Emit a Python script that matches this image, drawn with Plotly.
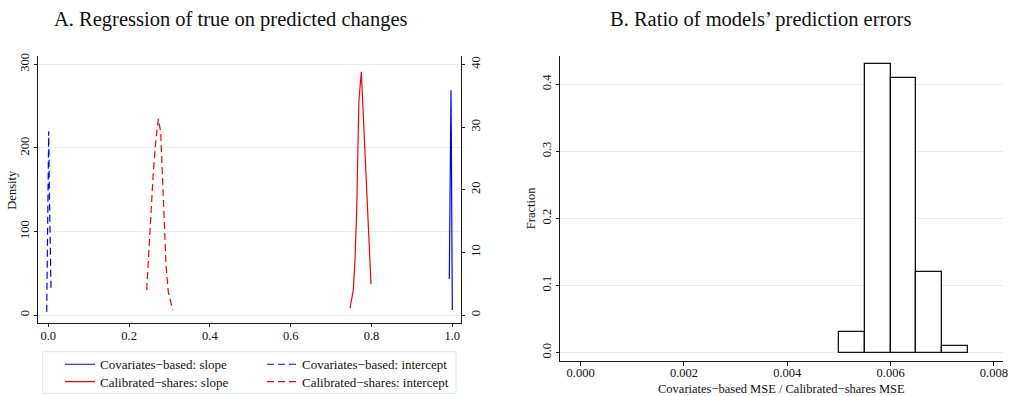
import plotly.graph_objects as go

# ---- Panel A: kernel densities of regression coefficients ----
# Covariates-based model (left density axis)
cov_slope_x = [0.9926, 0.9940, 0.9955, 0.9968, 0.9978, 0.9990, 1.0000]
cov_slope_y = [43, 130, 210, 269, 200, 100, 6]
cov_int_x = [-0.0040, -0.0025, -0.0007, 0.0010, 0.0025, 0.0042, 0.0067]
cov_int_y = [4, 74, 153, 220, 153, 102, 32]

# Calibrated-shares model (right density axis)
cal_slope_x = [0.7468, 0.7550, 0.7592, 0.7634, 0.7658, 0.7690, 0.7748,
               0.7772, 0.7829, 0.7879, 0.7923, 0.7968, 0.7988]
cal_slope_y = [1.1, 4.0, 8.8, 16.7, 24.7, 34.3, 38.8,
               35.3, 27.4, 20.4, 14.1, 7.7, 4.9]
cal_int_x = [0.2436, 0.2517, 0.2599, 0.2666, 0.2723, 0.2782, 0.2822,
             0.2864, 0.2913, 0.2970, 0.3079]
cal_int_y = [4.0, 13.3, 22.8, 28.2, 31.3, 29.2, 22.8, 13.8, 8.0, 3.7, 0.8]

# ---- Panel B: histogram of MSE ratio ----
bin_left = [0.0050, 0.0055, 0.0060, 0.0065, 0.0070]
bin_width = 0.0005
fractions = [0.03, 0.43, 0.41, 0.12, 0.01]

a_xticks = [0.0, 0.2, 0.4, 0.6, 0.8, 1.0]
a_yticks = [0, 100, 200, 300]
a_y2ticks = [0, 10, 20, 30, 40]
b_xticks = [0.000, 0.002, 0.004, 0.006, 0.008]
b_yticks = [0.0, 0.1, 0.2, 0.3, 0.4]

FONT = "Liberation Serif"
W, H = 1012, 396
AX = "#1a1a1a"
GRID = "#e6eeee"
DASH = "7px,4px"
TXT = "#111111"


def px(x):
    return x / W


def py(y):
    return 1 - y / H


fig = go.Figure()

fig.add_trace(go.Scatter(x=cov_slope_x, y=cov_slope_y, mode="lines",
                         line=dict(color="#0000ff", width=1.2),
                         name="Covariates\u2212based: slope",
                         xaxis="x", yaxis="y", legend="legend"))
fig.add_trace(go.Scatter(x=cov_int_x, y=cov_int_y, mode="lines",
                         line=dict(color="#0000ff", width=1.2, dash=DASH),
                         name="Covariates\u2212based: intercept",
                         xaxis="x", yaxis="y", legend="legend2"))
fig.add_trace(go.Scatter(x=cal_slope_x, y=cal_slope_y, mode="lines",
                         line=dict(color="#ff0000", width=1.2),
                         name="Calibrated\u2212shares: slope",
                         xaxis="x", yaxis="y2", legend="legend3"))
fig.add_trace(go.Scatter(x=cal_int_x, y=cal_int_y, mode="lines",
                         line=dict(color="#ff0000", width=1.2, dash=DASH),
                         name="Calibrated\u2212shares: intercept",
                         xaxis="x", yaxis="y2", legend="legend4"))

fig.add_trace(go.Bar(x=bin_left, y=fractions, width=bin_width, offset=0,
                     marker=dict(color="white", line=dict(color=TXT, width=1.3)),
                     xaxis="x3", yaxis="y3", showlegend=False))

tickfont = dict(family=FONT, size=12.5, color=TXT)
common = dict(showline=True, linecolor=AX, linewidth=1, ticks="outside",
              ticklen=3.5, tickcolor=AX, tickfont=tickfont, zeroline=False,
              automargin=False)
titlefont = dict(family=FONT, size=12.5, color=TXT)

a_dom_x = [px(38), px(460.7)]
a_dom_y = [py(322.7), py(56)]
b_dom_x = [px(560), px(1002.7)]
b_dom_y = [py(361), py(56)]

fig.update_layout(
    width=W, height=H,
    margin=dict(l=0, r=0, t=0, b=0, autoexpand=False),
    paper_bgcolor="white", plot_bgcolor="white",
    font=dict(family=FONT, size=13, color=TXT),
    bargap=0,
    xaxis=dict(domain=a_dom_x, range=[-0.0255, 1.0208], tickvals=a_xticks,
               ticktext=[f"{v:.1f}" for v in a_xticks], showgrid=False,
               anchor="y", ticklabelstandoff=-2, **common),
    yaxis=dict(domain=a_dom_y, range=[-9.2, 310], tickvals=a_yticks,
               tickangle=-90, showgrid=True, gridcolor=GRID, gridwidth=1,
               anchor="x", **common),
    yaxis2=dict(range=[-9.2 * 40 / 300, 310 * 40 / 300], tickvals=a_y2ticks,
                tickangle=-90, overlaying="y", side="right", anchor="x",
                showgrid=False, **common),
    xaxis3=dict(domain=b_dom_x, range=[-0.0004, 0.00817], tickvals=b_xticks,
                ticktext=[f"{v:.3f}" for v in b_xticks], showgrid=False,
                anchor="y3", ticklabelstandoff=-4, **common),
    yaxis3=dict(domain=b_dom_y, range=[-0.0125, 0.4422], tickvals=b_yticks,
                ticktext=[f"{v:.1f}" for v in b_yticks], tickangle=-90,
                showgrid=True, gridcolor=GRID, gridwidth=1, anchor="x3",
                **common),
)

# Axis titles
fig.add_annotation(text="Density", x=px(11.7), y=py(190), xref="paper", yref="paper",
                   textangle=-90, xanchor="center", yanchor="middle",
                   showarrow=False, font=titlefont)
fig.add_annotation(text="Fraction", x=px(530.7), y=py(208.5), xref="paper", yref="paper",
                   textangle=-90, xanchor="center", yanchor="middle",
                   showarrow=False, font=titlefont)
fig.add_annotation(text="Covariates\u2212based MSE / Calibrated\u2212shares MSE",
                   x=px(781), y=py(388.5), xref="paper", yref="paper",
                   xanchor="center", yanchor="middle", showarrow=False,
                   font=titlefont)

# Four single-entry legends laid out as a 2x2 key inside one framed box
leg_common = dict(bgcolor="rgba(0,0,0,0)", borderwidth=0, xanchor="left",
                  yanchor="middle", font=dict(family=FONT, size=13, color=TXT))
fig.update_layout(
    legend=dict(x=px(60), y=py(364.3), **leg_common),
    legend2=dict(x=px(262), y=py(364.3), **leg_common),
    legend3=dict(x=px(60), y=py(381.7), **leg_common),
    legend4=dict(x=px(262), y=py(381.7), **leg_common),
)

fig.add_shape(type="rect", xref="paper", yref="paper",
              x0=px(42.7), x1=px(456), y0=py(393.3), y1=py(351.7),
              line=dict(color="#dfe8e8", width=1), fillcolor="rgba(0,0,0,0)",
              layer="below")

fig.add_annotation(text="A. Regression of true on predicted changes",
                   x=px(231), y=py(19), xref="paper", yref="paper",
                   xanchor="center", yanchor="middle", showarrow=False,
                   font=dict(family=FONT, size=20.5, color=TXT))
fig.add_annotation(text="B. Ratio of models\u2019 prediction errors",
                   x=px(760.5), y=py(19), xref="paper", yref="paper",
                   xanchor="center", yanchor="middle", showarrow=False,
                   font=dict(family=FONT, size=20.5, color=TXT))

fig.write_html("out.html")
